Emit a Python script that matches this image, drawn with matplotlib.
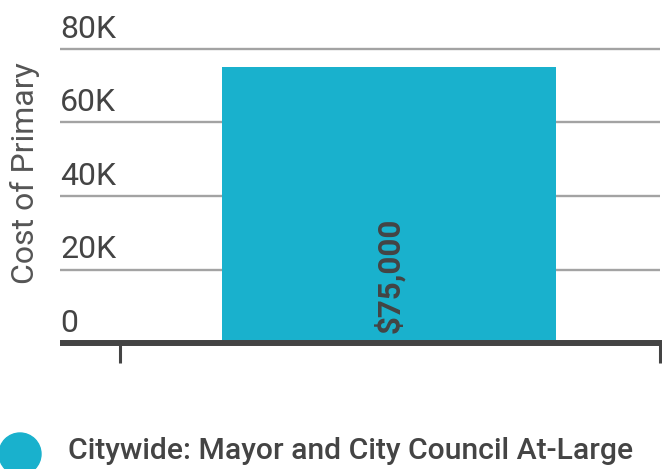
import matplotlib
matplotlib.use("Agg")
import matplotlib.pyplot as plt
from matplotlib.patches import Ellipse

categories = ["Citywide: Mayor and City Council At-Large"]
values = [75000]
value_labels = ["$75,000"]
yticks = [0, 20000, 40000, 60000, 80000]
ytick_labels = ["0", "20K", "40K", "60K", "80K"]
ylabel = "Cost of Primary"

BAR = "#19b1cd"
DARK = "#444444"
GRID = "#a3a3a3"

W, H = 662, 469
fig = plt.figure(figsize=(W / 100, H / 100), dpi=100)
ax = fig.add_axes([60 / W, (H - 343) / H, 602 / W, 294 / H])
ax.set_xlim(-0.985, 0.817)
ax.set_ylim(0, 80000)
for s in ax.spines.values():
    s.set_visible(False)

for yv in yticks[1:]:
    ax.plot([0, 0.997], [yv, yv], transform=ax.get_yaxis_transform(), color=GRID,
            lw=1.7, solid_capstyle="butt", zorder=1, clip_on=False)

ax.bar([0], values, width=1.0, color=BAR, zorder=2)

ax.plot([0, 1], [0, 0], transform=ax.get_yaxis_transform(), color=DARK, lw=4.3,
        solid_capstyle="butt", zorder=3, clip_on=False)

ax.set_yticks([])
ax.set_xticks([-0.805, 0.811])
ax.set_xticklabels(["", ""])
ax.tick_params(axis="x", length=14.4, width=2.2, color=DARK, direction="out", pad=0)

for yv, lab in zip(yticks, ytick_labels):
    ax.annotate(lab, xy=(0, yv), xycoords=("axes fraction", "data"),
                xytext=(0, 8), textcoords="offset points", ha="left", va="baseline",
                fontsize=23, family="Roboto", color=DARK, annotation_clip=False)

for i, (v, lab) in enumerate(zip(values, value_labels)):
    ax.annotate(lab, xy=(i, 0), xytext=(0, 7), textcoords="offset points",
                rotation=90, ha="center", va="bottom", fontsize=22.5,
                family="Roboto", fontweight="bold", color=DARK, zorder=4)

fig.text(25 / W, (H - 173) / H, ylabel, rotation=90, ha="center", va="center",
         fontsize=23, family="Roboto", fontweight="normal", color="#555555")

# legend
fig.patches.append(Ellipse((20 / W, (H - 454) / H), 42 / W, 42 / H,
                           transform=fig.transFigure, color=BAR))
fig.text(68 / W, (H - 451) / H, categories[0], ha="left", va="center",
         fontsize=21.7, family="Roboto", fontweight="medium", color=DARK)

fig.savefig("out.png", dpi=100)
